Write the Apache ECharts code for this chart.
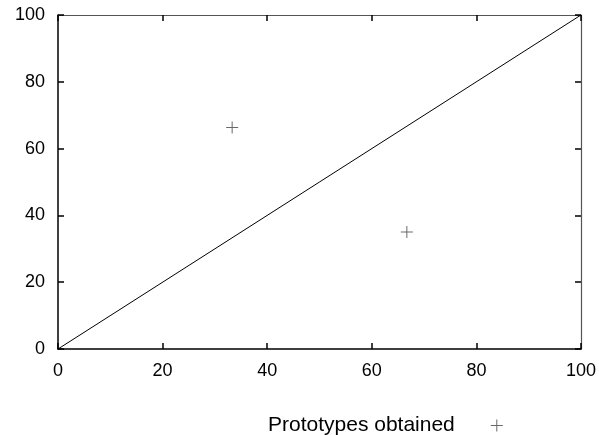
<!DOCTYPE html>
<html>
<head>
<meta charset="utf-8">
<script src="https://cdn.jsdelivr.net/npm/echarts@6/dist/echarts.min.js"></script>
<style>
html,body{margin:0;padding:0;background:#fff;}
#chart{width:599px;height:435px;}
</style>
</head>
<body>
<div id="chart"></div>
<script>
// data
var seriesName = 'Prototypes obtained';
var pointsX = [33.3, 66.7];
var pointsY = [66.3, 35];
var lineX = [0, 100];
var lineY = [0, 100];

var plus = 'path://M0,5.5L12,5.5L12,6.5L0,6.5Z M5.5,0L6.5,0L6.5,12L5.5,12Z';
var font = 'Liberation Sans, Arial, sans-serif';

var chart = echarts.init(document.getElementById('chart'));

function axisBase(pos, show){
	return {
		type: 'value',
		position: pos,
		min: 0,
		max: 100,
		interval: 20,
		axisLine: { show: true, onZero: false, lineStyle: { color: show ? '#000' : '#555', width: show ? 1.5 : 1.2 } },
		axisTick: { show: true, inside: true, length: 6, lineStyle: { color: '#000', width: 1.5 } },
		splitLine: { show: false },
		axisLabel: { show: show, color: '#000', fontSize: 18, fontFamily: font, margin: 13 }
	};
}

var sc = [], ln = [];
for (var i = 0; i < pointsX.length; i++) sc.push([pointsX[i], pointsY[i]]);
for (var i = 0; i < lineX.length; i++) ln.push([lineX[i], lineY[i]]);

var option = {
	animation: false,
	backgroundColor: '#fff',
	grid: { left: 58, right: 17, top: 15, bottom: 86 },
	legend: {
		data: [{ name: seriesName, icon: plus }],
		left: 263,
		top: 410,
		align: 'right',
		itemWidth: 12,
		itemHeight: 12,
		itemGap: 10,
		textStyle: { color: '#000', fontSize: 21, fontFamily: font, padding: [0, 31, 0, 0] }
	},
	xAxis: [axisBase('bottom', true), axisBase('top', false)],
	yAxis: [axisBase('left', true), axisBase('right', false)],
	series: [{
		name: 'diag',
		type: 'line',
		data: ln,
		symbol: 'none',
		lineStyle: { color: '#000', width: 1 },
		silent: true
	}, {
		name: seriesName,
		type: 'scatter',
		data: sc,
		symbol: plus,
		symbolSize: 12,
		itemStyle: { color: '#444' }
	}]
};
chart.setOption(option);
</script>
</body>
</html>
